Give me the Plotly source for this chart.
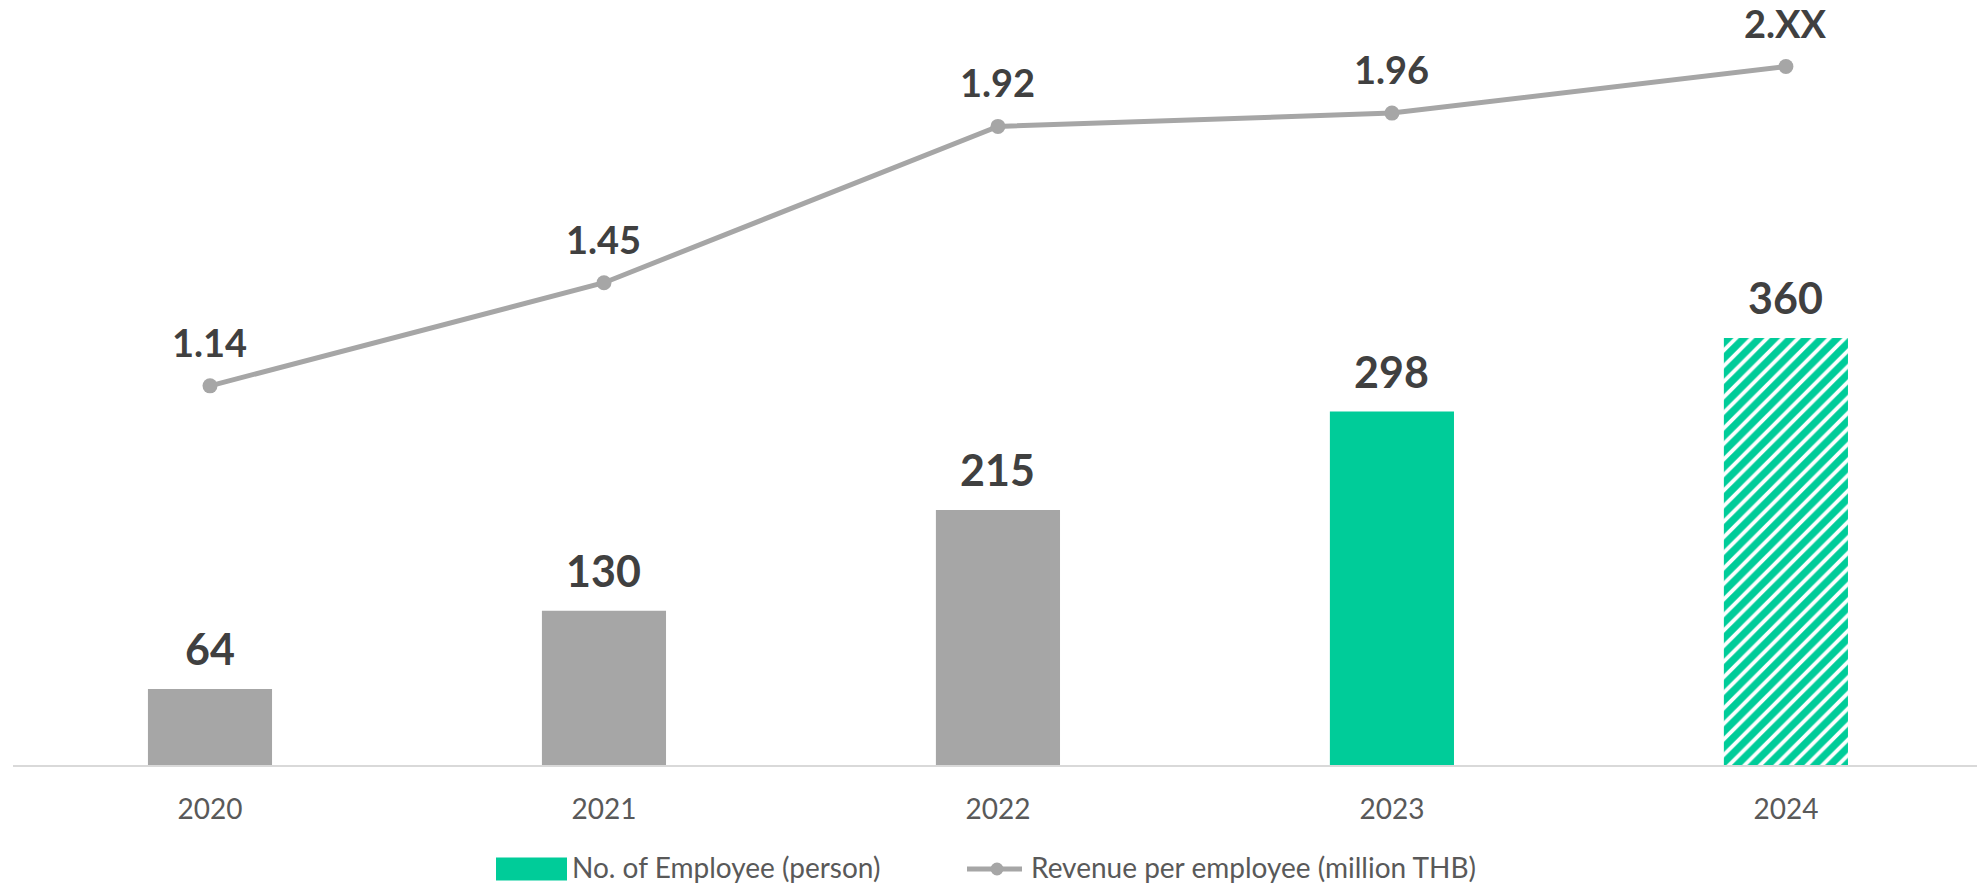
import plotly.graph_objects as go

years = ["2020", "2021", "2022", "2023", "2024"]
employees = [64, 130, 215, 298, 360]
employee_labels = ["64", "130", "215", "298", "360"]
revenue = [1.14, 1.45, 1.92, 1.96, 2.10]
revenue_labels = ["1.14", "1.45", "1.92", "1.96", "2.XX"]
legend_names = ["No. of Employee (person)", "Revenue per employee (million THB)"]

GRAY = "#A6A6A6"
GREEN = "#00CC99"
LABEL = "#404040"
TICK = "#595959"
FONT = "Lato"

solid_colors = [GRAY, GRAY, GRAY, GREEN]

fig = go.Figure()
# actual years: solid bars
fig.add_trace(go.Bar(
    x=years[:4], y=employees[:4], width=0.315,
    marker=dict(color=solid_colors, line=dict(width=0)),
    name=legend_names[0], showlegend=False, hoverinfo="skip",
))
# forecast year: hatched bar
fig.add_trace(go.Bar(
    x=years[4:], y=employees[4:], width=0.315,
    marker=dict(color="#FFFFFF", line=dict(width=0),
                pattern=dict(shape="/", fgcolor=GREEN, bgcolor="#FFFFFF",
                             size=11, solidity=0.65, fgopacity=1)),
    name=legend_names[0], showlegend=False, hoverinfo="skip",
))
fig.add_trace(go.Scatter(
    x=years, y=revenue, yaxis="y2", mode="lines+markers",
    line=dict(color=GRAY, width=5), marker=dict(color=GRAY, size=15),
    name=legend_names[1], showlegend=False, hoverinfo="skip",
))

annotations = []
for i, (v, t) in enumerate(zip(employees, employee_labels)):
    annotations.append(dict(x=i, y=v, xref="x", yref="y", text=t, showarrow=False,
                            yanchor="bottom", yshift=13,
                            font=dict(family=FONT, size=43, color=LABEL, weight="bold")))
for i, (v, t) in enumerate(zip(revenue, revenue_labels)):
    annotations.append(dict(x=i, y=v, xref="x", yref="y2", text=t, showarrow=False,
                            yanchor="bottom", yshift=19,
                            font=dict(family=FONT, size=38, color=LABEL, weight="bold")))

# legend (custom, below plot); plot area spans x 13..1977 px, y 0..765 px
LEG_Y = -104 / 765
LEG_BOTTOM = -121 / 765
annotations.append(dict(x=557 / 1964, y=LEG_BOTTOM, xref="paper", yref="paper", text=legend_names[0],
                        showarrow=False, xanchor="left", yanchor="bottom",
                        font=dict(family=FONT, size=28, color=TICK)))
annotations.append(dict(x=1016 / 1964, y=LEG_BOTTOM, xref="paper", yref="paper", text=legend_names[1],
                        showarrow=False, xanchor="left", yanchor="bottom",
                        font=dict(family=FONT, size=28, color=TICK)))

shapes = [
    dict(type="rect", xref="paper", yref="paper", x0=483 / 1964, x1=554 / 1964,
         y0=LEG_Y - 11.5 / 765, y1=LEG_Y + 11.5 / 765, fillcolor=GREEN, line=dict(width=0)),
    dict(type="line", xref="paper", yref="paper", x0=954 / 1964, x1=1009 / 1964,
         y0=LEG_Y, y1=LEG_Y, line=dict(color=GRAY, width=5)),
    dict(type="circle", xref="paper", yref="paper", x0=977.5 / 1964, x1=990.5 / 1964,
         y0=LEG_Y - 6.5 / 765, y1=LEG_Y + 6.5 / 765, fillcolor=GRAY, line=dict(width=0)),
]

fig.update_layout(
    width=1977, height=886, autosize=False,
    margin=dict(l=13, r=0, t=0, b=121),
    paper_bgcolor="white", plot_bgcolor="white",
    barmode="overlay",
    xaxis=dict(type="category", range=[-0.5, 4.485], showline=True, linecolor="#D9D9D9",
               linewidth=2, showgrid=False, zeroline=False, ticks="",
               ticklabelstandoff=18,
               tickfont=dict(family=FONT, size=28, color=TICK)),
    yaxis=dict(range=[0, 645], visible=False, showgrid=False, zeroline=False),
    yaxis2=dict(range=[0, 2.30], overlaying="y", visible=False, showgrid=False, zeroline=False),
    annotations=annotations, shapes=shapes, showlegend=False,
)

fig.write_html("out.html", config={"displayModeBar": False},
               post_script="document.body.style.margin='0';document.body.style.overflow='hidden';")
